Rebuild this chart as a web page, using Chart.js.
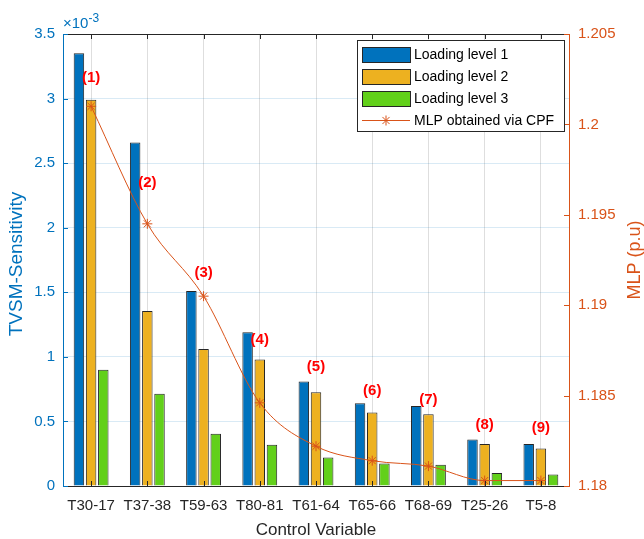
<!DOCTYPE html>
<html>
<head>
<meta charset="utf-8">
<script src="https://cdn.jsdelivr.net/npm/chart.js@4.4.0/dist/chart.umd.min.js"></script>
<style>
  html, body { margin: 0; padding: 0; background: #fff; }
  #wrap { width: 644px; height: 539px; }
</style>
</head>
<body>
<div id="wrap"><canvas id="sensChart" width="644" height="539"></canvas></div>
<script>
// control variables (x axis)
var categories = ["T30-17", "T37-38", "T59-63", "T80-81", "T61-64", "T65-66", "T68-69", "T25-26", "T5-8"];

// TVSM sensitivity per loading level
var level1 = [3.35e-3, 2.66e-3, 1.51e-3, 1.19e-3, 0.81e-3, 0.64e-3, 0.62e-3, 0.36e-3, 0.325e-3];
var level2 = [2.99e-3, 1.355e-3, 1.06e-3, 0.98e-3, 0.725e-3, 0.57e-3, 0.555e-3, 0.325e-3, 0.29e-3];
var level3 = [0.90e-3, 0.715e-3, 0.405e-3, 0.32e-3, 0.22e-3, 0.175e-3, 0.165e-3, 0.10e-3, 0.09e-3];

// MLP obtained via CPF (right axis, p.u)
var mlp = [1.2010, 1.1945, 1.1905, 1.1846, 1.1822, 1.1814, 1.1811, 1.1803, 1.1803];

// ranking labels and the sensitivity level they sit at
var rankLabels = ["(1)", "(2)", "(3)", "(4)", "(5)", "(6)", "(7)", "(8)", "(9)"];
var rankLevels = [3.16e-3, 2.35e-3, 1.65e-3, 1.13e-3, 0.92e-3, 0.735e-3, 0.665e-3, 0.47e-3, 0.45e-3];

var FONT = '"Liberation Sans", Arial, Helvetica, sans-serif';
var BLUE = "#0072BD", ORANGE = "#EDB120", GREEN = "#62D01A", RED_LINE = "#D95319";

// extra drawing: frame, inward ticks, titles, exponent, rank labels, legend
var decorPlugin = {
    id: "decor",
    afterDraw: function (chart) {
        var ctx = chart.ctx;
        var a = chart.chartArea;
        var xs = chart.scales.x, ys = chart.scales.y, y1 = chart.scales.y1;
        ctx.save();

        // top frame + inward ticks on top/bottom
        ctx.lineWidth = 1;
        ctx.strokeStyle = "#262626";
        ctx.beginPath();
        ctx.moveTo(a.left, a.top + 0.5);
        ctx.lineTo(a.right, a.top + 0.5);
        categories.forEach(function (c, i) {
            var x = Math.round(xs.getPixelForValue(i)) + 0.5;
            ctx.moveTo(x, a.top);
            ctx.lineTo(x, a.top + 5);
            ctx.moveTo(x, a.bottom);
            ctx.lineTo(x, a.bottom - 5);
        });
        ctx.stroke();

        // left ticks
        ctx.strokeStyle = BLUE;
        ctx.beginPath();
        ys.ticks.forEach(function (t) {
            var y = Math.round(ys.getPixelForValue(t.value)) + 0.5;
            ctx.moveTo(a.left, y);
            ctx.lineTo(a.left + 5, y);
        });
        ctx.stroke();

        // right ticks
        ctx.strokeStyle = RED_LINE;
        ctx.beginPath();
        y1.ticks.forEach(function (t) {
            var y = Math.round(y1.getPixelForValue(t.value)) + 0.5;
            ctx.moveTo(a.right, y);
            ctx.lineTo(a.right - 5, y);
        });
        ctx.stroke();

        // exponent label
        ctx.fillStyle = BLUE;
        ctx.textBaseline = "alphabetic";
        ctx.textAlign = "left";
        ctx.font = "15px " + FONT;
        ctx.fillText("\u00d710", a.left, 28);
        var w = ctx.measureText("\u00d710").width;
        ctx.font = "12px " + FONT;
        ctx.fillText("-3", a.left + w, 22);

        // axis titles
        ctx.textAlign = "center";
        ctx.textBaseline = "middle";
        ctx.font = "19px " + FONT;
        ctx.save();
        ctx.translate(17, 264);
        ctx.rotate(-Math.PI / 2);
        ctx.fillText("TVSM-Sensitivity", 0, 0);
        ctx.restore();

        ctx.fillStyle = RED_LINE;
        ctx.font = "18px " + FONT;
        ctx.save();
        ctx.translate(635, 260);
        ctx.rotate(-Math.PI / 2);
        ctx.fillText("MLP (p.u)", 0, 0);
        ctx.restore();

        ctx.fillStyle = "#262626";
        ctx.font = "17px " + FONT;
        ctx.fillText("Control Variable", (a.left + a.right) / 2, 530);

        // rank labels
        ctx.fillStyle = "#FF0000";
        ctx.font = "bold 15px " + FONT;
        rankLabels.forEach(function (lab, i) {
            ctx.fillText(lab, xs.getPixelForValue(i), ys.getPixelForValue(rankLevels[i]));
        });

        // legend box
        var lx = 357, ly = 40, lw = 207, lh = 91;
        ctx.fillStyle = "#fff";
        ctx.fillRect(lx, ly, lw, lh);
        ctx.strokeStyle = "#262626";
        ctx.strokeRect(lx + 0.5, ly + 0.5, lw, lh);
        var items = [
            { text: "Loading level 1", color: BLUE },
            { text: "Loading level 2", color: ORANGE },
            { text: "Loading level 3", color: GREEN },
            { text: "MLP obtained via CPF", line: true }
        ];
        ctx.font = "14px " + FONT;
        ctx.textAlign = "left";
        items.forEach(function (it, i) {
            var cy = 54 + i * 22;
            if (it.line) {
                ctx.strokeStyle = RED_LINE;
                ctx.beginPath();
                ctx.moveTo(362, cy + 0.5);
                ctx.lineTo(410, cy + 0.5);
                // star marker
                for (var k = 0; k < 4; k++) {
                    var ang = k * Math.PI / 4;
                    ctx.moveTo(386 - 5 * Math.cos(ang), cy + 0.5 - 5 * Math.sin(ang));
                    ctx.lineTo(386 + 5 * Math.cos(ang), cy + 0.5 + 5 * Math.sin(ang));
                }
                ctx.stroke();
            } else {
                ctx.fillStyle = it.color;
                ctx.fillRect(362, cy - 7, 48, 15);
                ctx.strokeStyle = "#262626";
                ctx.strokeRect(362.5, cy - 6.5, 48, 15);
            }
            ctx.fillStyle = "#000";
            ctx.textBaseline = "middle";
            ctx.fillText(it.text, 414, cy + 1);
        });

        ctx.restore();
    }
};

var barCommon = {
    borderColor: "#262626",
    borderWidth: 1,
    categoryPercentage: 0.65,
    barPercentage: 0.86,
    yAxisID: "y",
    order: 2
};

var sensChart = new Chart(document.getElementById("sensChart"), {
    type: "bar",
    data: {
        labels: categories,
        datasets: [
            Object.assign({ label: "Loading level 1", data: level1, backgroundColor: BLUE }, barCommon),
            Object.assign({ label: "Loading level 2", data: level2, backgroundColor: ORANGE }, barCommon),
            Object.assign({ label: "Loading level 3", data: level3, backgroundColor: GREEN }, barCommon),
            {
                type: "line",
                label: "MLP obtained via CPF",
                data: mlp,
                yAxisID: "y1",
                borderColor: RED_LINE,
                borderWidth: 1,
                backgroundColor: RED_LINE,
                pointStyle: "star",
                pointRadius: 5,
                pointBorderWidth: 1,
                pointBorderColor: RED_LINE,
                cubicInterpolationMode: "monotone",
                fill: false,
                order: 0
            }
        ]
    },
    options: {
        responsive: false,
        animation: false,
        devicePixelRatio: 1,
        layout: { padding: { top: 34, left: 0, right: 0, bottom: 0 } },
        plugins: {
            legend: { display: false },
            tooltip: { enabled: false },
            title: { display: false }
        },
        scales: {
            x: {
                offset: true,
                grid: { offset: false, color: "rgba(0,0,0,0.13)", drawTicks: false },
                border: { display: true, color: "#262626" },
                ticks: {
                    autoSkip: false, maxRotation: 0, padding: 11,
                    color: "#262626", font: { family: FONT, size: 15 }
                },
                afterFit: function (s) { s.height = 53; }
            },
            y: {
                position: "left",
                min: 0, max: 0.0035,
                grid: { color: "rgba(0,114,189,0.15)", drawTicks: false },
                border: { display: true, color: BLUE },
                ticks: {
                    stepSize: 0.0005, padding: 8, color: BLUE,
                    font: { family: FONT, size: 15 },
                    callback: function (v) { return String(Math.round(v * 1e4) / 10); }
                },
                afterFit: function (s) { s.width = 63; }
            },
            y1: {
                position: "right",
                min: 1.18, max: 1.205,
                grid: { display: false, drawTicks: false },
                border: { display: true, color: RED_LINE },
                ticks: {
                    stepSize: 0.005, padding: 9, color: RED_LINE,
                    font: { family: FONT, size: 15 },
                    callback: function (v) { return String(Math.round(v * 1000) / 1000); }
                },
                afterFit: function (s) { s.width = 75; }
            }
        }
    },
    plugins: [decorPlugin]
});
</script>
</body>
</html>
